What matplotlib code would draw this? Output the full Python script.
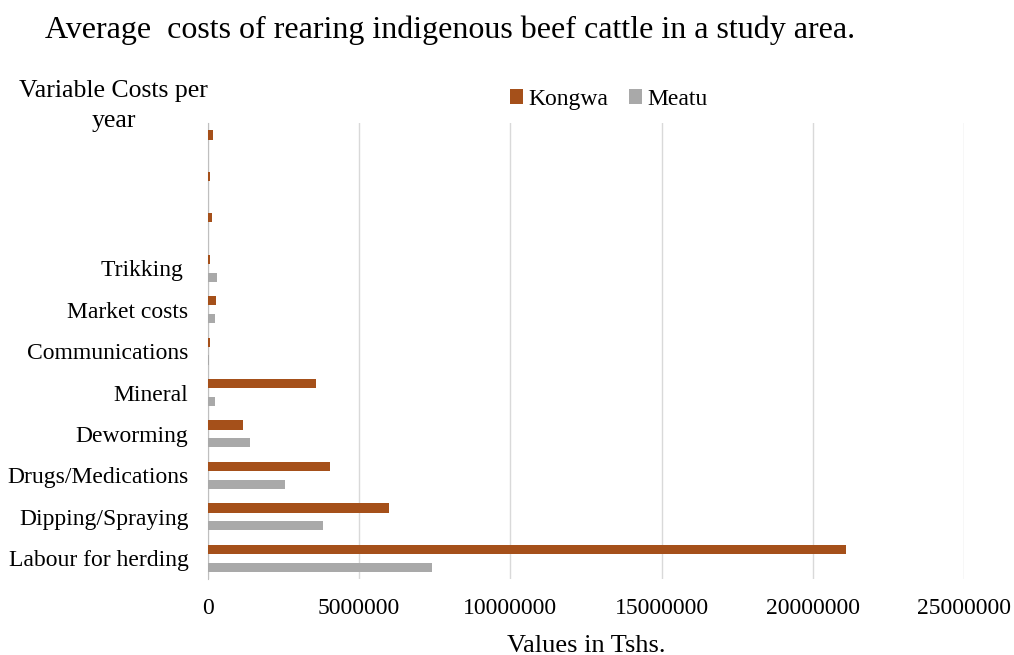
import matplotlib.pyplot as plt
import numpy as np

plt.rcParams['font.family'] = ['Liberation Serif', 'DejaVu Serif']

# cost items, bottom to top (top three rows carry no label)
categories = ["Labour for herding", "Dipping/Spraying", "Drugs/Medications",
              "Deworming", "Mineral", "Communications", "Market costs",
              "Trikking ", "", "", ""]
kongwa = [21100000, 6000000, 4030000, 1160000, 3570000, 60000, 260000,
          60000, 130000, 70000, 170000]
meatu = [7400000, 3800000, 2550000, 1390000, 220000, 40000, 250000,
         300000, 0, 0, 0]
xticks = [0, 5000000, 10000000, 15000000, 20000000, 25000000]

fig = plt.figure(figsize=(10.14, 6.55), dpi=100)
ax = fig.add_axes([0.205, 0.116, 0.746, 0.696])

y = np.arange(len(categories))
h = 0.22
ax.barh(y + 0.215, kongwa, height=h, color="#A5501A", label="Kongwa", zorder=3)
ax.barh(y - 0.215, meatu, height=h, color="#A9A9A9", label="Meatu", zorder=3)

ax.set_ylim(-0.5, len(categories) - 0.5)
ax.set_xlim(0, 25000000)
ax.set_yticks(y)
ax.set_yticklabels(categories, fontsize=17)
ax.set_xticks(xticks)
ax.set_xticklabels([str(v) for v in xticks], fontsize=17)
ax.tick_params(axis="both", length=0)
ax.tick_params(axis="x", pad=14)
ax.tick_params(axis="y", pad=14)

ax.grid(axis="x", color="#D9D9D9", linewidth=1, zorder=0)
for s in ["top", "right", "bottom"]:
    ax.spines[s].set_visible(False)
ax.spines["left"].set_color("#BFBFBF")

ax.set_xlabel("Values in Tshs.", fontsize=19, labelpad=11)

fig.text(0.444, 0.954, "Average  costs of rearing indigenous beef cattle in a study area.",
         fontsize=23, ha="center", va="center")
fig.text(0.112, 0.838, "Variable Costs per\nyear", fontsize=18.5, ha="center",
         va="center", linespacing=1.45)

ax.legend(loc="center", bbox_to_anchor=(0.53, 1.052), ncol=2, frameon=False,
          fontsize=17, handlelength=0.55, handleheight=0.55, handletextpad=0.25,
          columnspacing=0.85)

fig.savefig("out.png", dpi=100)
